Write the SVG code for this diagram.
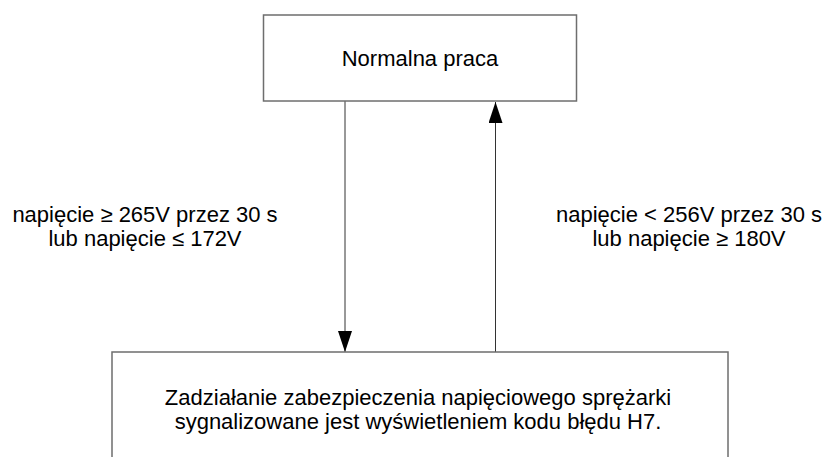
<svg xmlns="http://www.w3.org/2000/svg" width="829" height="457" viewBox="0 0 829 457">
<style>
.box{fill:#fff;stroke:#6e6e6e;stroke-width:1.5}
.t{font-family:"Liberation Sans",Arial,sans-serif;font-size:22px;fill:#000;text-anchor:middle}
.c{stroke:#333;stroke-width:1;fill:none}
</style>
<defs>
<marker id="a" viewBox="0 0 21 14" refX="21" refY="7" markerWidth="21" markerHeight="14" markerUnits="userSpaceOnUse" orient="auto">
<path d="M0,0 L21,7 L0,14 Z" fill="#000"/>
</marker>
</defs>
<rect width="829" height="457" fill="#fff"/>
<g id="connectors">
<line class="c" x1="345" y1="101" x2="345" y2="352" marker-end="url(#a)"/>
<line class="c" x1="495.5" y1="352" x2="495.5" y2="102" marker-end="url(#a)"/>
<text class="t" x="145" y="222">napięcie ≥ 265V przez 30 s</text>
<text class="t" x="145" y="246">lub napięcie ≤ 172V</text>
<text class="t" x="689" y="222">napięcie &lt; 256V przez 30 s</text>
<text class="t" x="689" y="246">lub napięcie ≥ 180V</text>
</g>
<g id="normal">
<rect class="box" x="263.5" y="15" width="313" height="86"/>
<text class="t" x="420" y="66">Normalna praca</text>
</g>
<g id="protection">
<rect class="box" x="112" y="352" width="616" height="130"/>
<text class="t" x="418" y="405">Zadziałanie zabezpieczenia napięciowego sprężarki</text>
<text class="t" x="418" y="429">sygnalizowane jest wyświetleniem kodu błędu H7.</text>
</g>
</svg>
